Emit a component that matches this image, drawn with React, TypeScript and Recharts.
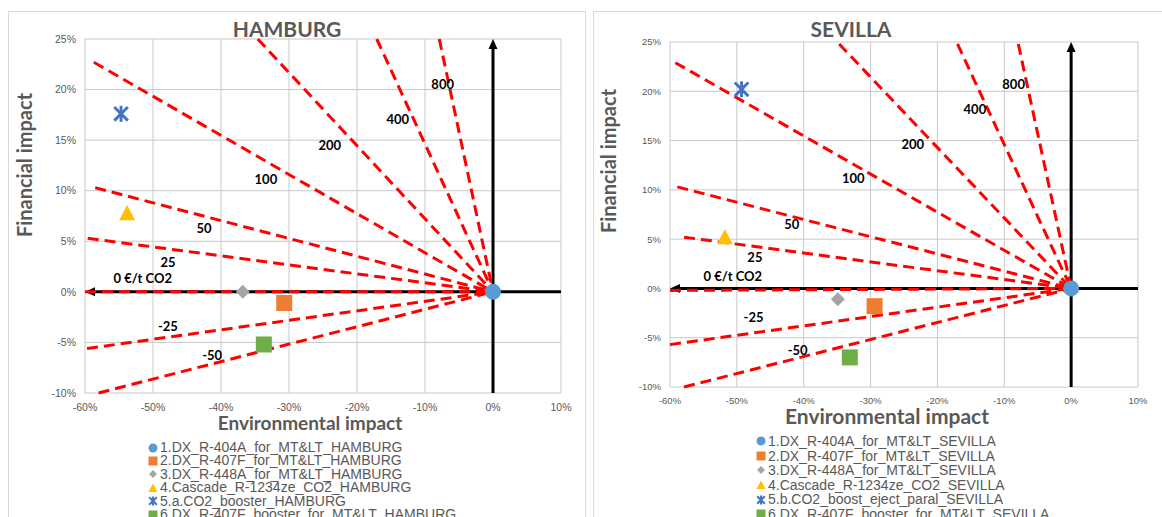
import React from "react";
import { ScatterChart, Scatter, XAxis, YAxis, CartesianGrid, ReferenceLine, ReferenceDot, Legend } from "recharts";

// axis ticks (percent)
const xTicks = [-60, -50, -40, -30, -20, -10, 0, 10];
const yTicks = [-10, -5, 0, 5, 10, 15, 20, 25];

// series styling, same for both cities
const seriesColors = ["#5b9bd5", "#ed7d31", "#a5a5a5", "#ffc000", "#4472c4", "#70ad47"];
const seriesShapes = ["circle", "square", "diamond", "triangle", "star", "square"];

const hamburgNames = [
  "1.DX_R-404A_for_MT&LT_HAMBURG",
  "2.DX_R-407F_for_MT&LT_HAMBURG",
  "3.DX_R-448A_for_MT&LT_HAMBURG",
  "4.Cascade_R-1234ze_CO2_HAMBURG",
  "5.a.CO2_booster_HAMBURG",
  "6.DX_R-407F_booster_for_MT&LT_HAMBURG",
];
const hamburgEnv = [0, -30.7, -36.8, -53.8, -54.7, -33.7];
const hamburgFin = [0, -1.1, 0, 7.8, 17.6, -5.2];

const sevillaNames = [
  "1.DX_R-404A_for_MT&LT_SEVILLA",
  "2.DX_R-407F_for_MT&LT_SEVILLA",
  "3.DX_R-448A_for_MT&LT_SEVILLA",
  "4.Cascade_R-1234ze_CO2_SEVILLA",
  "5.b.CO2_boost_eject_paral_SEVILLA",
  "6.DX_R-407F_booster_for_MT&LT_SEVILLA",
];
const sevillaEnv = [0, -29.4, -34.9, -51.8, -49.3, -33.1];
const sevillaFin = [0, -1.8, -1.1, 5.2, 20.2, -7.0];

// iso cost lines (€/t CO2), drawn from the origin to their far end
const isoLabels = ["800", "400", "200", "100", "50", "25", "0 €/t CO2", "-25", "-50"];
const hamburgIsoEndX = [-7.9, -17.1, -34.6, -58.7, -58.5, -59.6, -60, -59.7, -58];
const hamburgIsoEndY = [25, 25, 25, 22.7, 10.3, 5.3, 0, -5.6, -10];
const hamburgLabelX = [-7.4, -14.0, -24.0, -33.4, -42.5, -47.8, -51.5, -47.8, -41.3];
const hamburgLabelY = [20.6, 17.1, 14.5, 11.2, 6.3, 3.0, 1.4, -3.4, -6.2];

const sevillaIsoEndX = [-7.9, -17.0, -34.7, -59.2, -58.9, -57.9, -60, -60, -57.9];
const sevillaIsoEndY = [24.8, 24.8, 24.8, 22.9, 10.3, 5.2, -0.2, -5.7, -10];
const sevillaLabelX = [-8.6, -14.4, -23.7, -32.6, -41.8, -47.3, -50.6, -47.5, -40.9];
const sevillaLabelY = [20.7, 18.2, 14.7, 11.2, 6.5, 3.2, 1.3, -2.9, -6.2];

const GRAY = "#595959";

const Marker = ({ cx, cy, kind, color, size }: any) => {
  const h = size / 2;
  if (kind === "circle") return <circle cx={cx} cy={cy} r={h} fill={color} />;
  if (kind === "square") return <rect x={cx - h} y={cy - h} width={size} height={size} fill={color} />;
  if (kind === "diamond")
    return <polygon points={`${cx},${cy - h} ${cx + h},${cy} ${cx},${cy + h} ${cx - h},${cy}`} fill={color} />;
  if (kind === "triangle")
    return <polygon points={`${cx},${cy - h} ${cx + h},${cy + h * 0.9} ${cx - h},${cy + h * 0.9}`} fill={color} />;
  const s = h * 0.85;
  return (
    <g stroke={color} strokeWidth={Math.max(2, size / 5.5)}>
      <line x1={cx - s} y1={cy - s} x2={cx + s} y2={cy + s} />
      <line x1={cx - s} y1={cy + s} x2={cx + s} y2={cy - s} />
      <line x1={cx} y1={cy - h} x2={cx} y2={cy + h} />
    </g>
  );
};

const AxisArrow = (p: any) => {
  const { x1, y1, x2, y2 } = p;
  const a = Math.atan2(y2 - y1, x2 - x1);
  const L = 10;
  const W = 4.5;
  const bx = x2 - L * Math.cos(a);
  const by = y2 - L * Math.sin(a);
  const px = -Math.sin(a) * W;
  const py = Math.cos(a) * W;
  return (
    <g>
      <line x1={x1} y1={y1} x2={bx} y2={by} stroke="#000" strokeWidth={3} />
      <polygon points={`${x2},${y2} ${bx + px},${by + py} ${bx - px},${by - py}`} fill="#000" />
    </g>
  );
};

const City = (props: any) => {
  const {
    title, names, env, fin, isoX, isoY, labX, labY, width, height, margin, tickFont, tickMarginX,
    titleX, finPos, envPos, envFont, legendLeft, legendTop, rowH,
  } = props;
  return (
    <ScatterChart width={width} height={height} margin={margin}>
      <CartesianGrid stroke="#c9c9c9" strokeWidth={1} />
      <XAxis
        type="number"
        dataKey="x"
        domain={[-60, 10]}
        ticks={xTicks}
        tickFormatter={(v: number) => `${v}%`}
        axisLine={false}
        tickLine={false}
        tickMargin={tickMarginX}
        height={30}
        tick={{ fontSize: tickFont, fill: GRAY, fontFamily: "Liberation Sans, Arial, sans-serif" }}
      />
      <YAxis
        type="number"
        dataKey="y"
        domain={[-10, 25]}
        ticks={yTicks}
        tickFormatter={(v: number) => `${v}%`}
        axisLine={false}
        tickLine={false}
        tickMargin={3}
        width={40}
        tick={{ fontSize: tickFont, fill: GRAY, fontFamily: "Liberation Sans, Arial, sans-serif" }}
      />
      <ReferenceLine segment={[{ x: 0, y: -10 }, { x: 0, y: 25 }]} shape={AxisArrow} />
      <ReferenceLine segment={[{ x: 10, y: 0 }, { x: -60, y: 0 }]} shape={AxisArrow} />
      {isoX.map((ex: number, i: number) => (
        <ReferenceLine
          key={`iso${i}`}
          segment={[{ x: ex, y: isoY[i] }, { x: 0, y: 0 }]}
          stroke="#ff0000"
          strokeWidth={3}
          strokeDasharray="11 6"
        />
      ))}
      {names.map((n: string, i: number) => (
        <Scatter
          key={n}
          name={n}
          data={[{ x: env[i], y: fin[i] }]}
          fill={seriesColors[i]}
          isAnimationActive={false}
          shape={(p: any) => (
            <Marker cx={p.cx} cy={p.cy} kind={seriesShapes[i]} color={seriesColors[i]} size={i === 0 ? 16 : i === 2 ? 14 : 16} />
          )}
        />
      ))}
      {isoLabels.map((t, i) => (
        <ReferenceDot
          key={`lab${i}`}
          x={labX[i]}
          y={labY[i]}
          r={0}
          shape={(p: any) => (
            <text
              x={p.cx}
              y={p.cy}
              textAnchor="middle"
              dominantBaseline="central"
              fontFamily="Lato, sans-serif"
              fontWeight={700}
              fontSize={13}
              fill="#000"
            >
              {t}
            </text>
          )}
        />
      ))}
      <text x={titleX} y={26} textAnchor="middle" fontFamily="Lato, sans-serif" fontWeight={700} fontSize={21} fill={GRAY}>
        {title}
      </text>
      <text
        x={finPos[0]}
        y={finPos[1]}
        transform={`rotate(-90 ${finPos[0]} ${finPos[1]})`}
        textAnchor="middle"
        dominantBaseline="central"
        fontFamily="Lato, sans-serif"
        fontWeight={700}
        fontSize={20}
        fill={GRAY}
      >
        Financial impact
      </text>
      <text
        x={envPos[0]}
        y={envPos[1]}
        textAnchor="middle"
        dominantBaseline="central"
        fontFamily="Lato, sans-serif"
        fontWeight={700}
        fontSize={envFont}
        fill={GRAY}
      >
        {title === "SEVILLA" ? "Environmental  impact" : "Environmental impact"}
      </text>
      <Legend
        layout="vertical"
        align="center"
        verticalAlign="middle"
        wrapperStyle={{ left: legendLeft, top: legendTop, width: 420 }}
        content={() => (
          <div style={{ fontFamily: "Liberation Sans, Arial, sans-serif", fontSize: 14, color: GRAY }}>
            {names.map((n: string, i: number) => (
              <div key={n} style={{ height: rowH, lineHeight: `${rowH}px`, display: "flex", alignItems: "center", whiteSpace: "nowrap" }}>
                <svg width={10} height={10} style={{ marginRight: 2 }}>
                  <Marker cx={5} cy={5} kind={seriesShapes[i]} color={seriesColors[i]} size={i === 2 ? 8 : 9} />
                </svg>
                {n}
              </div>
            ))}
          </div>
        )}
      />
    </ScatterChart>
  );
};

export default function App() {
  return (
    <div style={{ position: "absolute", left: 0, top: 0, width: 1162, height: 517, overflow: "hidden", background: "#fff" }}>
      <div style={{ position: "absolute", left: 8, top: 11, width: 578, height: 520, border: "1px solid #d9d9d9", boxSizing: "border-box" }} />
      <div style={{ position: "absolute", left: 593, top: 11, width: 580, height: 520, border: "1px solid #d9d9d9", boxSizing: "border-box" }} />
      <div style={{ position: "absolute", left: 8, top: 11 }}>
        <City
          title="HAMBURG"
          names={hamburgNames}
          env={hamburgEnv}
          fin={hamburgFin}
          isoX={hamburgIsoEndX}
          isoY={hamburgIsoEndY}
          labX={hamburgLabelX}
          labY={hamburgLabelY}
          width={578}
          height={506}
          margin={{ top: 28, right: 25, left: 37, bottom: 94 }}
          tickFont={10.5}
          tickMarginX={5}
          titleX={279}
          finPos={[16, 154]}
          envPos={[302, 411]}
          envFont={19}
          legendLeft={140}
          legendTop={430}
          rowH={13.4}
        />
      </div>
      <div style={{ position: "absolute", left: 593, top: 11 }}>
        <City
          title="SEVILLA"
          names={sevillaNames}
          env={sevillaEnv}
          fin={sevillaFin}
          isoX={sevillaIsoEndX}
          isoY={sevillaIsoEndY}
          labX={sevillaLabelX}
          labY={sevillaLabelY}
          width={569}
          height={506}
          margin={{ top: 31, right: 24, left: 37, bottom: 100 }}
          tickFont={9.5}
          tickMarginX={4.5}
          titleX={258}
          finPos={[15, 150]}
          envPos={[294, 404]}
          envFont={21}
          legendLeft={163}
          legendTop={423}
          rowH={14.6}
        />
      </div>
    </div>
  );
}
